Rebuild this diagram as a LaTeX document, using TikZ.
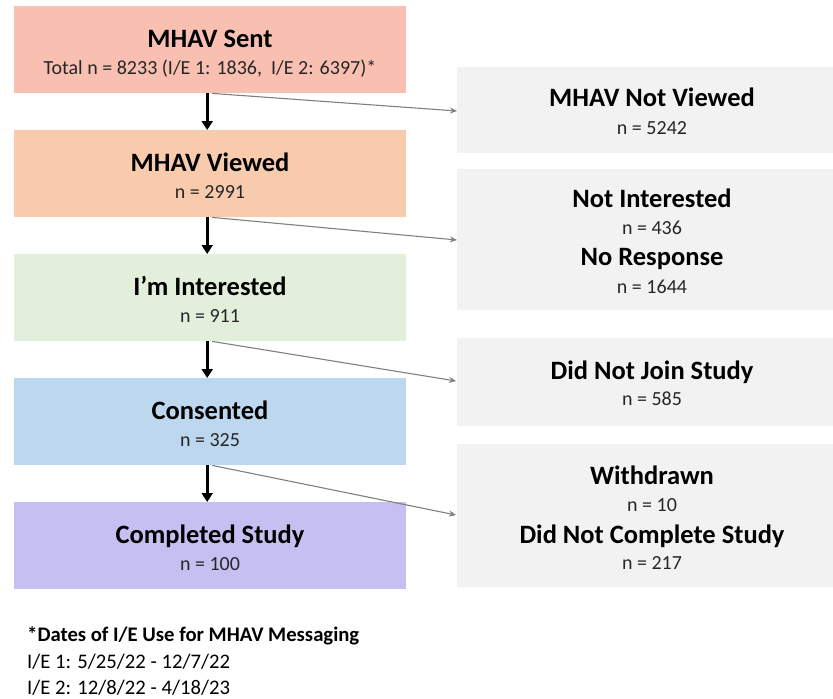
\documentclass[tikz,border=0pt]{standalone}
\usepackage{fontspec}
\setmainfont{Carlito}
\usetikzlibrary{arrows.meta}
\definecolor{csent}{HTML}{F9C0B1}
\definecolor{cview}{HTML}{F8CBAD}
\definecolor{cint}{HTML}{E2EFDA}
\definecolor{ccons}{HTML}{BDD7EE}
\definecolor{ccomp}{HTML}{C6C0F2}
\definecolor{cside}{HTML}{F2F2F2}
\definecolor{ctxt}{HTML}{262626}
\definecolor{cgray}{HTML}{7F7F7F}
\tikzset{
  mainbox/.style={draw=none, minimum width=392pt, minimum height=87pt, inner sep=0pt, anchor=north west},
  sidebox/.style={draw=none, fill=cside, inner sep=0pt, anchor=north west, minimum width=376pt},
  ttl/.style={anchor=base, inner sep=0pt, font=\fontsize{26.5}{30}\selectfont\bfseries, text=black},
  sub/.style={anchor=base, inner sep=0pt, font=\fontsize{20}{24}\selectfont, text=ctxt},
  down/.style={-{Triangle[length=9pt,width=11pt]}, line width=3pt, black},
  side/.style={-{Stealth[length=7pt,width=6pt]}, line width=1.1pt, cgray},
  note/.style={anchor=base west, inner sep=0pt, font=\fontsize{20.7}{24}\selectfont, text=black}
}
\begin{document}
\begin{tikzpicture}[x=1pt,y=-1pt]
\useasboundingbox (0,0) rectangle (833,699);
% main boxes
\node[mainbox, fill=csent] (b1) at (14,6) {};
\node[mainbox, fill=cview] (b2) at (14,130) {};
\node[mainbox, fill=cint] (b3) at (14,254) {};
\node[mainbox, fill=ccons] (b4) at (14,378) {};
\node[mainbox, fill=ccomp] (b5) at (14,502) {};
% side boxes
\node[sidebox, minimum height=86pt] (r1) at (457,67) {};
\node[sidebox, minimum height=141pt] (r2) at (457,169) {};
\node[sidebox, minimum height=88pt] (r3) at (457,338) {};
\node[sidebox, minimum height=143pt] (r4) at (457,444) {};
% main texts
\node[ttl] (t1) at (210,47) {MHAV Sent};
\node[sub] (n1) at (210,74) {Total n = 8233 (I/E 1: 1836,\ \ I/E 2: 6397)*};
\node[ttl] (t2) at (210,171) {MHAV Viewed};
\node[sub] (n2) at (210,198) {n = 2991};
\node[ttl] (t3) at (210,295) {I’m Interested};
\node[sub] (n3) at (210,322) {n = 911};
\node[ttl] (t4) at (210,419) {Consented};
\node[sub] (n4) at (210,446) {n = 325};
\node[ttl] (t5) at (210,543) {Completed Study};
\node[sub] (n5) at (210,570) {n = 100};
% side texts
\node[ttl] (s1) at (652,106) {MHAV Not Viewed};
\node[sub] (sn1) at (652,134) {n = 5242};
\node[ttl] (s2) at (652,207) {Not Interested};
\node[sub] (sn2) at (652,234) {n = 436};
\node[ttl] (s3) at (652,265) {No Response};
\node[sub] (sn3) at (652,293) {n = 1644};
\node[ttl] (s4) at (652,379) {Did Not Join Study};
\node[sub] (sn4) at (652,405) {n = 585};
\node[ttl] (s5) at (652,484) {Withdrawn};
\node[sub] (sn5) at (652,511) {n = 10};
\node[ttl] (s6) at (652,543) {Did Not Complete Study};
\node[sub] (sn6) at (652,569) {n = 217};
% down arrows
\foreach \a/\b in {b1/b2,b2/b3,b3/b4,b4/b5}{
  \draw[down] ([xshift=-3pt]\a.south) -- ([xshift=-3pt]\b.north);
}
% side arrows
\coordinate (e1) at (457,111);
\coordinate (e2) at (457,240);
\coordinate (e3) at (456,381);
\coordinate (e4) at (456,515);
\draw[side] ([xshift=2pt]b1.south) -- (e1);
\draw[side] ([xshift=2pt]b2.south) -- (e2);
\draw[side] ([xshift=2pt]b3.south) -- (e3);
\draw[side] ([xshift=2pt]b4.south) -- (e4);
% footnote
\node[note, font=\fontsize{20.7}{24}\selectfont\bfseries] (f1) at (27,641) {*Dates of I/E Use for MHAV Messaging};
\node[note] (f2) at (27,668) {I/E 1: 5/25/22 - 12/7/22};
\node[note] (f3) at (27,694) {I/E 2: 12/8/22 - 4/18/23};
\end{tikzpicture}
\end{document}
